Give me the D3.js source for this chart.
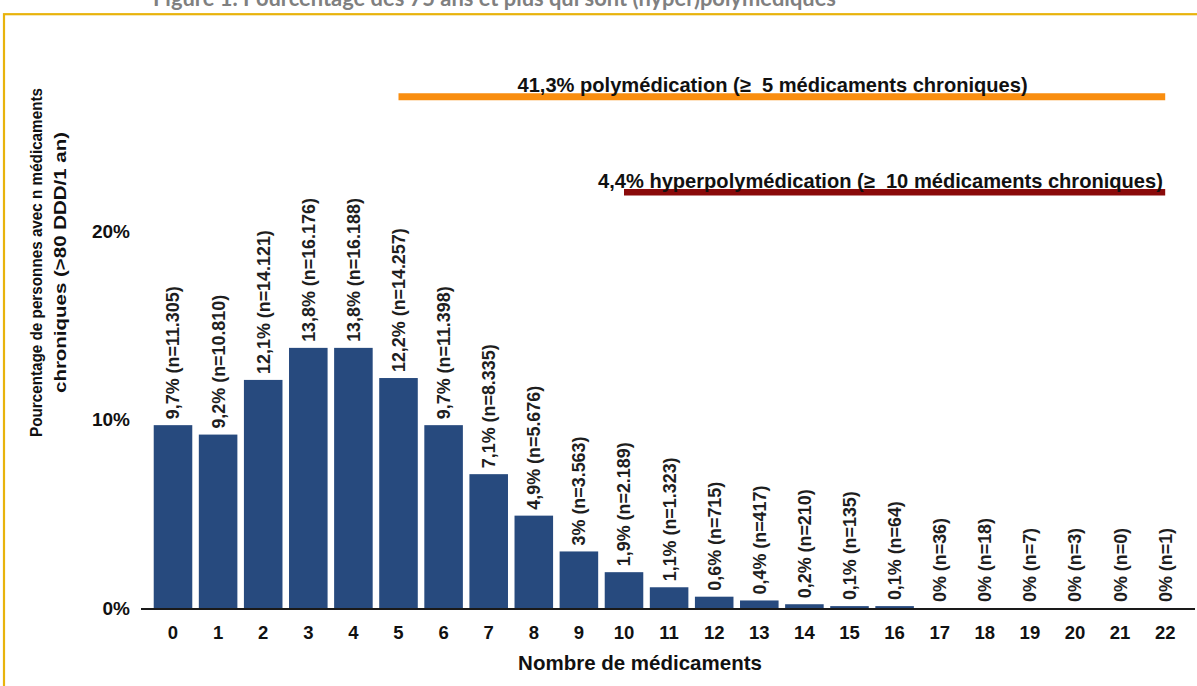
<!DOCTYPE html>
<html>
<head>
<meta charset="utf-8">
<script src="https://cdn.jsdelivr.net/npm/d3@7"></script>
<style>
  body { margin: 0; background: #fff; }
  svg { display: block; font-family: "Liberation Sans", Arial, sans-serif; }
  text { white-space: pre; }
</style>
</head>
<body>
<div id="graph"></div>
<script>
// chart data
var categories = ["0","1","2","3","4","5","6","7","8","9","10","11","12","13","14","15","16","17","18","19","20","21","22"];
var pctValues = [9.7, 9.2, 12.1, 13.8, 13.8, 12.2, 9.7, 7.1, 4.9, 3, 1.9, 1.1, 0.6, 0.4, 0.2, 0.1, 0.1, 0, 0, 0, 0, 0, 0];
var nCounts = ["11.305","10.810","14.121","16.176","16.188","14.257","11.398","8.335","5.676","3.563","2.189","1.323","715","417","210","135","64","36","18","7","3","0","1"];
var yTicks = [0, 10, 20];
var yTickLabels = ["0%", "10%", "20%"];

// the two range brackets above the bars
var rangeFrom = ["5", "10"];
var rangeTo = ["22", "22"];
var rangeLabels = ["41,3% polymédication (≥  5 médicaments chroniques)",
                   "4,4% hyperpolymédication (≥  10 médicaments chroniques)"];
var rangeColors = ["#f98e10", "#8a0a0a"];

var title = "Figure 1. Pourcentage des 75 ans et plus qui sont (hyper)polymédiques";
var xTitle = "Nombre de médicaments";
var yTitle = ["Pourcentage de personnes avec n médicaments", "chroniques (>80 DDD/1 an)"];

var W = 1197, H = 686;

var svg = d3.select("#graph").append("svg")
  .attr("width", W)
  .attr("height", H);

// gold frame
svg.append("rect")
  .attr("x", 4).attr("y", 14.2)
  .attr("width", 1400).attr("height", 1000)
  .attr("fill", "none")
  .attr("stroke", "#e8b30c")
  .attr("stroke-width", 2.2);

// title (its top is cut by the page edge, as in the original)
svg.append("text")
  .attr("x", 153).attr("y", 6)
  .attr("font-family", "Lato, 'Open Sans', sans-serif")
  .attr("font-weight", "bold")
  .attr("font-size", 21.9)
  .attr("fill", "#808080")
  .text(title);

var x = d3.scaleBand().domain(categories).range([150.45, 1187.75])
  .paddingInner(0.145).paddingOuter(0.0725);
var y = d3.scaleLinear().domain([0, 25]).range([608, 608 - 25 * 18.85]);

// bars
svg.selectAll("rect.bar")
  .data(pctValues)
  .enter().append("rect")
  .attr("class", "bar")
  .attr("x", function(d, i) { return x(categories[i]); })
  .attr("y", function(d) { return y(d); })
  .attr("width", x.bandwidth())
  .attr("height", function(d) { return y(0) - y(d); })
  .attr("fill", "#274a7e");

// value labels
svg.selectAll("text.lbl")
  .data(pctValues)
  .enter().append("text")
  .attr("class", "lbl")
  .attr("transform", function(d, i) {
    var cx = x(categories[i]) + x.bandwidth() / 2;
    return "translate(" + cx + "," + (y(d) - 6) + ") rotate(-90)";
  })
  .attr("dy", "0.36em")
  .attr("font-size", 17.9)
  .attr("font-weight", "bold")
  .attr("fill", "#1e1e1e")
  .text(function(d, i) { return String(d).replace(".", ",") + "% (n=" + nCounts[i] + ")"; });

// baseline
svg.append("line")
  .attr("x1", 141).attr("x2", 1195)
  .attr("y1", y(0) + 1).attr("y2", y(0) + 1)
  .attr("stroke", "#1a1a1a")
  .attr("stroke-width", 2);

// x axis
var xAxis = d3.axisBottom(x).tickSize(0).tickPadding(16.5);
var gx = svg.append("g")
  .attr("transform", "translate(0," + (y(0) + 1) + ")")
  .call(xAxis);
gx.select(".domain").remove();
gx.selectAll("text")
  .attr("font-family", "'Liberation Sans', Arial, sans-serif")
  .attr("font-size", 18.5)
  .attr("font-weight", "bold")
  .attr("fill", "#111");

// y axis
var yAxis = d3.axisLeft(y).tickValues(yTicks).tickSize(0).tickPadding(11)
  .tickFormat(function(d, i) { return yTickLabels[i]; });
var gy = svg.append("g")
  .attr("transform", "translate(141,0)")
  .call(yAxis);
gy.select(".domain").remove();
gy.selectAll("text")
  .attr("font-family", "'Liberation Sans', Arial, sans-serif")
  .attr("font-size", 19)
  .attr("font-weight", "bold")
  .attr("fill", "#111");

// axis titles
svg.append("text")
  .attr("x", 640).attr("y", 670)
  .attr("text-anchor", "middle")
  .attr("font-size", 20.5)
  .attr("font-weight", "bold")
  .attr("fill", "#111")
  .text(xTitle);

// fit to the lengths measured on the original
var yTitleX = [41.5, 65.5];
var yTitleLen = [349, 261];
yTitle.forEach(function(t, i) {
  svg.append("text")
    .attr("transform", "translate(" + yTitleX[i] + ",262.5) rotate(-90)")
    .attr("text-anchor", "middle")
    .attr("font-size", 17)
    .attr("font-weight", "bold")
    .attr("fill", "#111")
    .attr("textLength", yTitleLen[i])
    .attr("lengthAdjust", "spacingAndGlyphs")
    .text(t);
});

// range brackets
var rangeY = [96.8, 192.2];
var rangeW = [7, 6.5];
var labelShift = [119, -26];
var labelY = [92, 188];
rangeLabels.forEach(function(t, i) {
  var x0 = x(rangeFrom[i]) + x.bandwidth() / 2;
  var x1 = x(rangeTo[i]) + x.bandwidth() / 2;
  svg.append("line")
    .attr("x1", x0).attr("x2", x1)
    .attr("y1", rangeY[i]).attr("y2", rangeY[i])
    .attr("stroke", rangeColors[i])
    .attr("stroke-width", rangeW[i]);
  svg.append("text")
    .attr("x", x0 + labelShift[i]).attr("y", labelY[i])
    .attr("font-size", 20.1)
    .attr("font-weight", "bold")
    .attr("fill", "#111")
    .text(t);
});
</script>
</body>
</html>
